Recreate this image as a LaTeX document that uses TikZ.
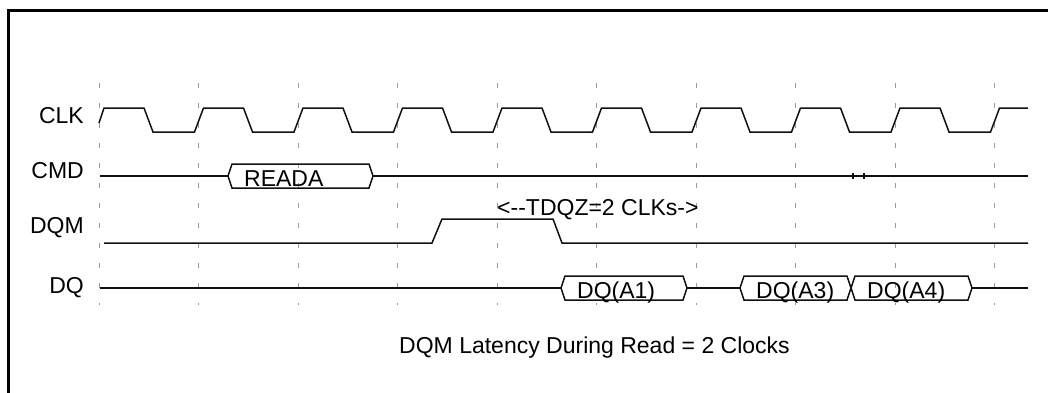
\documentclass[tikz,border=0pt]{standalone}
\usepackage{fontspec}
\setmainfont{Liberation Sans}
\usepackage{xcolor}
\usetikzlibrary{positioning}
\definecolor{gridGrey}{HTML}{9A9A9A}
\definecolor{waveBlack}{HTML}{111111}

\begin{document}
\begin{tikzpicture}[
  x=1pt, y=-1pt,
  every node/.style={font=\fontsize{23}{27}\selectfont, inner sep=0pt},
  wave/.style={line width=1.5pt, draw=waveBlack, line join=miter},
  gridline/.style={draw=gridGrey, line width=0.8pt, dash pattern=on 5pt off 15pt},
  frame/.style={draw=black, line width=3pt},
  signame/.style={anchor=base east},
  buslabel/.style={anchor=base west}
]
\useasboundingbox (0,0) rectangle (1048,392);
\draw[frame] (8.7,10) rectangle (1080,420);

% clock grid
\foreach \k in {0,...,9}
  \draw[gridline] ({99+99.5*\k},83) -- ({99+99.5*\k},305);

% signal names
\node[signame] (clk) at (84,123) {CLK};
\node[signame] (cmd) at (84,178) {CMD};
\node[signame] (dqm) at (84,233) {DQM};
\node[signame] (dq) at (84,293) {DQ};

% clock
\draw[wave] (99,123) -- (104,108)
  foreach \k in {0,...,8} {
    -- ({99+99.5*\k+45},108) -- ({99+99.5*\k+54},132)
    -- ({99+99.5*\k+95.5},132) -- ({99+99.5*\k+104.5},108)
  } -- (1028,108);

% buses
\foreach \xa/\xb/\yc/\txt/\nm in {228/373/176/READA/reada,
    561/687/288/DQ(A1)/dqa1, 740/851/288/DQ(A3)/dqa3, 851/972/288/DQ(A4)/dqa4} {
  \draw[wave] (\xa,\yc) -- (\xa+4,\yc-12) -- (\xb-4,\yc-12) -- (\xb,\yc)
    -- (\xb-4,\yc+12) -- (\xa+4,\yc+12) -- cycle;
  \node[buslabel] (\nm) at (\xa+16,\yc+10) {\txt};
}

% command line
\draw[wave] (100,176) -- (228,176);
\draw[wave] (373,176) -- (1028,176);
\draw[wave] (853,173) -- (853,179);
\draw[wave] (864,173) -- (864,179);

% dqm
\draw[wave] (104,243) -- (432,243) -- (442,219) -- (553,219) -- (562,243) -- (1028,243);
\node[anchor=base west] (tdqz) at (497,215) {<{-}{-}TDQZ=2 CLKs{-}>};

% data line
\draw[wave] (100,288) -- (561,288);
\draw[wave] (687,288) -- (740,288);
\draw[wave] (972,288) -- (1028,288);

\node[anchor=base] (caption) at (594.5,353) {DQM Latency During Read = 2 Clocks};
\end{tikzpicture}
\end{document}
